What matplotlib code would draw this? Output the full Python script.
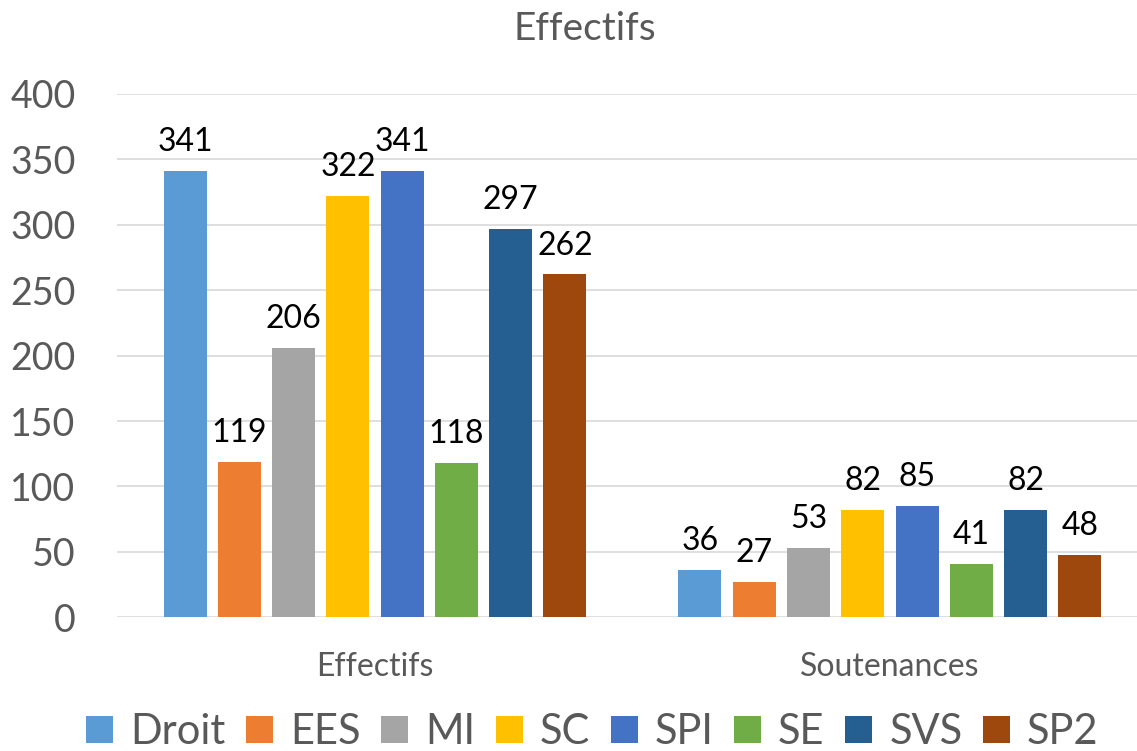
import matplotlib.pyplot as plt
import numpy as np

plt.rcParams['font.family'] = ['Lato', 'DejaVu Sans']

categories = ['Effectifs', 'Soutenances']
series = ['Droit', 'EES', 'MI', 'SC', 'SPI', 'SE', 'SVS', 'SP2']
values = [
    [341, 36],
    [119, 27],
    [206, 53],
    [322, 82],
    [341, 85],
    [118, 41],
    [297, 82],
    [262, 48],
]
colors = ['#5B9BD5', '#ED7D31', '#A5A5A5', '#FFC000',
          '#4472C4', '#70AD47', '#255E91', '#9E480E']

fig = plt.figure(figsize=(11.37, 7.51), dpi=100)
ax = fig.add_axes([0.103, 0.178, 0.897, 0.697])

x = np.arange(len(categories))
step = 0.1054
width = 0.0835
for i, name in enumerate(series):
    pos = x + (i - 3.5) * step
    bars = ax.bar(pos, values[i], width, color=colors[i], label=name, zorder=3)
    for b, v in zip(bars, values[i]):
        ax.annotate(str(v), (b.get_x() + b.get_width() / 2, v),
                    xytext=(0, 10), textcoords='offset points',
                    ha='center', va='bottom', fontsize=23, color='black')

ax.set_xlim(-0.501, 1.48)
ax.set_ylim(0, 400)
ax.set_yticks(range(0, 401, 50))
ax.set_xticks(x)
ax.set_xticklabels(categories, fontsize=23, color='#595959')
ax.tick_params(axis='y', labelsize=27, labelcolor='#595959', length=0, pad=30)
ax.tick_params(axis='x', length=0, pad=25)
ax.yaxis.grid(True, color='#D9D9D9', linewidth=1.2, zorder=0)
for s in ax.spines.values():
    s.set_visible(False)

fig.suptitle('Effectifs', fontsize=28, color='#595959', x=0.514, y=0.985)

fig.legend(loc='lower center', bbox_to_anchor=(0.521, -0.05), ncol=8,
           frameon=False, fontsize=30, handlelength=0.65, handleheight=0.65,
           handletextpad=0.4, columnspacing=0.5, labelcolor='#595959')

fig.savefig('out.png', dpi=100)
